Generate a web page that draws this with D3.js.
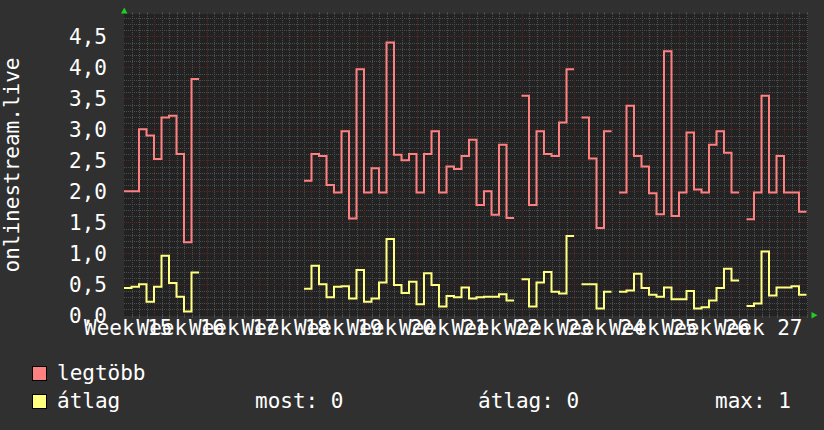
<!DOCTYPE html>
<html>
<head>
<meta charset="utf-8">
<script src="https://cdnjs.cloudflare.com/ajax/libs/d3/7.8.5/d3.min.js"></script>
<style>
    html, body {margin: 0; padding: 0; background: #303030;}
    svg text {font-family: "DejaVu Sans Mono", monospace; fill: #ffffff;}
</style>
</head>
<body>
<svg id="chart" width="824" height="430"></svg>
<script>
// daily values, day 0 = left edge of the plot, null = no data
var maxValues = [
    2.0, 2.0, 3.0, 2.9, 2.52, 3.19, 3.22, 2.6, 1.18, 3.81,
    null, null, null, null, null, null, null, null, null, null, null, null, null, null,
    2.17, 2.6, 2.57, 2.1, 1.98, 2.97, 1.56, 3.97, 1.98, 2.37,
    1.98, 4.4, 2.59, 2.5, 2.6, 1.98, 2.6, 2.97, 1.98, 2.4,
    2.36, 2.57, 2.83, 1.78, 2.0, 1.62, 2.75, 1.57, null, 3.54,
    1.78, 2.97, 2.6, 2.57, 3.11, 3.97, null, 3.19, 2.53, 1.41,
    2.97, null, 1.98, 3.38, 2.57, 2.4, 1.97, 1.63, 4.26, 1.6,
    1.98, 2.95, 2.03, 1.98, 2.75, 2.97, 2.62, 1.98, null, 1.55,
    1.98, 3.54, 1.98, 2.57, 1.98, 1.98, 1.67
];

var avgValues = [
    0.44, 0.46, 0.5, 0.22, 0.46, 0.96, 0.52, 0.3, 0.06, 0.69,
    null, null, null, null, null, null, null, null, null, null, null, null, null, null,
    0.43, 0.8, 0.5, 0.29, 0.46, 0.47, 0.27, 0.73, 0.22, 0.27,
    0.53, 1.23, 0.49, 0.36, 0.54, 0.18, 0.68, 0.49, 0.14, 0.31,
    0.29, 0.45, 0.27, 0.29, 0.3, 0.3, 0.34, 0.24, null, 0.58,
    0.14, 0.53, 0.7, 0.38, 0.35, 1.28, null, 0.5, 0.5, 0.11,
    0.38, null, 0.38, 0.4, 0.67, 0.44, 0.33, 0.3, 0.45, 0.26,
    0.26, 0.39, 0.11, 0.13, 0.24, 0.44, 0.75, 0.56, null, 0.15,
    0.19, 1.03, 0.32, 0.45, 0.45, 0.47, 0.33
];

var weekLabels = ["Week 15", "Week 16", "Week 17", "Week 18", "Week 19", "Week 20", "Week 21",
    "Week 22", "Week 23", "Week 24", "Week 25", "Week 26", "Week 27"];
var weekLabelDays = [0.5, 7.5, 14.5, 21.5, 28.5, 35.5, 42.5, 49.5, 56.5, 63.5, 70.5, 77.5, 84.5];
var weekLineDays = [4, 11, 18, 25, 32, 39, 46, 53, 60, 67, 74, 81, 88];

var yTickValues = [0, 0.5, 1, 1.5, 2, 2.5, 3, 3.5, 4, 4.5];

var seriesNames = ["legtöbb", "átlag"];
var seriesColors = ["#ff8080", "#ffff80"];
var legendStats = ["most: 0", "átlag: 0", "max: 1"];

var svg = d3.select("#chart");
var plotLeft = 124, plotRight = 808, plotTop = 14, plotBottom = 316;

var x = d3.scaleLinear().domain([0, 91.2]).range([plotLeft, plotRight]);
var y = d3.scaleLinear().domain([0, 4.86]).range([315.3, plotTop]);

svg.append("rect")
    .attr("x", plotLeft).attr("y", plotTop)
    .attr("width", plotRight - plotLeft).attr("height", plotBottom - plotTop)
    .attr("fill", "#222222");

// grid
var grid = svg.append("g").attr("class", "grid");
var minorColor = "#4c4c4c", majorColor = "#5a2828";

var dayLines = d3.range(1, 92).filter(function(d) {return weekLineDays.indexOf(d) < 0});
var minorY = d3.range(1, 49).map(function(d) {return d / 10}).filter(function(v) {return Math.round(v * 10) % 5 !== 0});

grid.selectAll("line.vmin").data(dayLines).enter().append("line")
    .attr("x1", function(d) {return Math.round(x(d)) + 0.5})
    .attr("x2", function(d) {return Math.round(x(d)) + 0.5})
    .attr("y1", plotTop).attr("y2", plotBottom)
    .attr("stroke", minorColor).attr("stroke-dasharray", "1,1");

grid.selectAll("line.hmin").data(minorY).enter().append("line")
    .attr("y1", function(d) {return Math.round(y(d)) + 0.5})
    .attr("y2", function(d) {return Math.round(y(d)) + 0.5})
    .attr("x1", plotLeft).attr("x2", plotRight)
    .attr("stroke", minorColor).attr("stroke-dasharray", "1,1");

grid.selectAll("line.vmaj").data(weekLineDays).enter().append("line")
    .attr("x1", function(d) {return Math.round(x(d)) + 0.5})
    .attr("x2", function(d) {return Math.round(x(d)) + 0.5})
    .attr("y1", plotTop - 2).attr("y2", plotBottom + 2)
    .attr("stroke", majorColor).attr("stroke-dasharray", "1,1");

grid.selectAll("line.hmaj").data(yTickValues.slice(1)).enter().append("line")
    .attr("y1", function(d) {return Math.round(y(d)) + 0.5})
    .attr("y2", function(d) {return Math.round(y(d)) + 0.5})
    .attr("x1", plotLeft - 2).attr("x2", plotRight + 2)
    .attr("stroke", majorColor).attr("stroke-dasharray", "1,1");

// small ticks at the plot edges
grid.selectAll("line.ttop").data(dayLines).enter().append("line")
    .attr("x1", function(d) {return Math.round(x(d)) + 0.5})
    .attr("x2", function(d) {return Math.round(x(d)) + 0.5})
    .attr("y1", plotTop - 2).attr("y2", plotTop + 1)
    .attr("stroke", minorColor);
grid.selectAll("line.tbot").data(dayLines).enter().append("line")
    .attr("x1", function(d) {return Math.round(x(d)) + 0.5})
    .attr("x2", function(d) {return Math.round(x(d)) + 0.5})
    .attr("y1", plotBottom - 1).attr("y2", plotBottom + 2)
    .attr("stroke", minorColor);

// lines
function stepPoints(values) {
    var pts = [];
    values.forEach(function(v, i) {
        if (v == null) { pts.push(null); return; }
        pts.push([i, v]);
        if (i === values.length - 1 || values[i + 1] == null) pts.push([i + 1, v]);
    });
    return pts;
}

var line = d3.line()
    .defined(function(d) {return d != null})
    .x(function(d) {return x(d[0])})
    .y(function(d) {return y(d[1])})
    .curve(d3.curveStepAfter);

[maxValues, avgValues].forEach(function(values, i) {
    svg.append("path")
        .datum(stepPoints(values))
        .attr("fill", "none")
        .attr("stroke", seriesColors[i])
        .attr("stroke-width", 2)
        .attr("d", line);
});

// axes
var yAxis = d3.axisLeft(y)
    .tickValues(yTickValues)
    .tickSize(0)
    .tickPadding(0)
    .tickFormat(function(d) {return d3.format(".1f")(d).replace(".", ",")});

var yG = svg.append("g")
    .attr("transform", "translate(107,0)")
    .call(yAxis);
yG.select(".domain").remove();
yG.selectAll("text")
    .attr("font-size", 21)
    .attr("dy", "0.36em")
    .style("font-family", "DejaVu Sans Mono");

var xAxis = d3.axisBottom(x)
    .tickValues(weekLabelDays)
    .tickSize(0)
    .tickPadding(0)
    .tickFormat(function(d, i) {return weekLabels[i]});

var xG = svg.append("g")
    .attr("transform", "translate(0,320)")
    .call(xAxis);
xG.select(".domain").remove();
xG.selectAll("text")
    .attr("font-size", 21)
    .attr("dy", "0.71em")
    .style("font-family", "DejaVu Sans Mono");

// arrows
svg.append("path")
    .attr("d", "M121,13.5 L127.5,13.5 L124.25,7.5 Z")
    .attr("fill", "#20d020");
svg.append("path")
    .attr("d", "M811.5,312 L811.5,318.5 L817.5,315.25 Z")
    .attr("fill", "#20d020");

// y title
svg.append("text")
    .attr("transform", "translate(19,165) rotate(-90)")
    .attr("text-anchor", "middle")
    .attr("font-size", 21)
    .text("onlinestream.live");

// legend
var legend = svg.append("g");
seriesNames.forEach(function(name, i) {
    var ly = 366 + i * 28;
    legend.append("rect")
        .attr("x", 32.5).attr("y", ly + 0.5)
        .attr("width", 14).attr("height", 14)
        .attr("fill", seriesColors[i])
        .attr("stroke", "#000000");
    legend.append("text")
        .attr("x", 57).attr("y", ly + 14)
        .attr("font-size", 21)
        .text(name);
});

var statX = [255, 478, 715];
legendStats.forEach(function(s, i) {
    legend.append("text")
        .attr("x", statX[i]).attr("y", 408)
        .attr("font-size", 21)
        .text(s);
});
</script>
</body>
</html>
